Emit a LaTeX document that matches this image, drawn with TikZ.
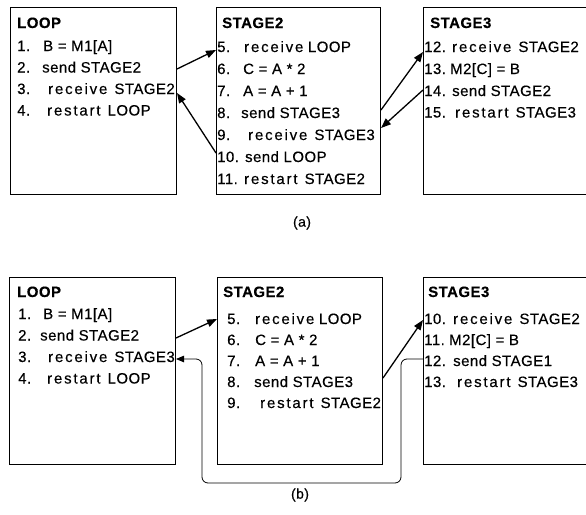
\documentclass[tikz,border=0pt]{standalone}
\usepackage{fontspec}
\setmainfont{Liberation Sans}[LetterSpace=3,FakeBold=0.35]
\usetikzlibrary{arrows.meta}
\newcommand{\ls}[1]{{\addfontfeature{LetterSpace=12}#1}}
\newcommand{\nb}[2]{\makebox[#1pt][l]{#2}}
\begin{document}
\begin{tikzpicture}[x=1pt,y=-1pt,
  box/.style={draw,line width=1pt,inner sep=0pt,anchor=north west,minimum width=#1,minimum height=187pt},
  ttl/.style={anchor=west,inner sep=0pt,font=\fontsize{15}{16}\selectfont\bfseries,text height=11pt,text depth=3pt},
  txt/.style={anchor=west,inner sep=0pt,font=\fontsize{15}{16}\selectfont,text height=11pt,text depth=3pt},
  arr/.style={line width=1.3pt,-{Triangle[length=10pt,width=7.5pt]}},
  ret/.style={line width=0.8pt,rounded corners=6pt,-{Triangle[length=8pt,width=6.5pt]}},
  captxt/.style={font=\fontsize{14}{16}\selectfont,inner sep=0pt}]
\useasboundingbox (0,0) rectangle (586,514);
% ---------- (a) ----------
\node[box=166pt] (loopA) at (10,7) {};
\node[box=164pt] (stbA) at (216,7) {};
\node[box=164pt] (stcA) at (423,7) {};
\node[ttl] at (17,24) {LOOP};
\node[txt] (la1) at (17,47) {\nb{26}{1.}B = M1[A]};
\node[txt] (la2) at (17,68.5) {\nb{25}{2.}send STAGE2};
\node[txt] (la3) at (17,90) {\nb{31}{3.}\ls{receive}\, STAGE2};
\node[txt] (la4) at (17,111.5) {\nb{30}{4.}\ls{restart}\, LOOP};
\node[ttl] at (222,24) {STAGE2};
\node[txt] (sa5) at (217,48) {\nb{27}{5.}\ls{receive} LOOP};
\node[txt] (sa6) at (217,70) {\nb{26}{6.}C = A * 2};
\node[txt] (sa7) at (217,92) {\nb{26}{7.}A = A + 1};
\node[txt] (sa8) at (217,114) {\nb{24}{8.}send STAGE3};
\node[txt] (sa9) at (217,136) {\nb{31}{9.}\ls{receive}\, STAGE3};
\node[txt] (sa10) at (217,158) {10. send LOOP};
\node[txt] (sa11) at (217,180) {\nb{27}{11.}\ls{restart}\, STAGE2};
\node[ttl] at (430,24) {STAGE3};
\node[txt] (ta12) at (424,48) {\nb{28}{12.}\ls{receive}\, STAGE2};
\node[txt] (ta13) at (424,70) {\nb{26}{13.}M2[C] = B};
\node[txt] (ta14) at (424,92) {\nb{28}{14.}send STAGE2};
\node[txt] (ta15) at (424,113.5) {\nb{31}{15.}\ls{restart}\, STAGE3};
\node[captxt] (capa) at (302,223) {(a)};
\draw[arr] ([yshift=-0.5pt]loopA.east |- la2) -- ([yshift=-2pt]stbA.west |- sa5);
\draw[arr] ([yshift=5pt]stbA.west |- sa10) -- ([yshift=-3pt]loopA.east |- la3);
\draw[arr] ([yshift=4pt]stbA.east |- sa8) -- ([yshift=-4pt]stcA.west |- ta12);
\draw[arr] ([yshift=2pt]stcA.west |- ta14) -- ([yshift=8pt]stbA.east |- sa9);
% ---------- (b) ----------
\node[box=166pt] (loopB) at (9,277) {};
\node[box=165pt] (stbB) at (217,277) {};
\node[box=164pt] (stcB) at (423,277) {};
\node[ttl] at (17,293) {LOOP};
\node[txt] (lb1) at (18,315) {\nb{25}{1.}B = M1[A]};
\node[txt] (lb2) at (18,336.5) {\nb{22}{2.}send STAGE2};
\node[txt] (lb3) at (18,358) {\nb{30}{3.}\ls{receive}\, STAGE3};
\node[txt] (lb4) at (18,379.5) {\nb{29}{4.}\ls{restart}\, LOOP};
\node[ttl] at (223,293) {STAGE2};
\node[txt] (sb5) at (227,320) {\nb{28}{5.}\ls{receive} LOOP};
\node[txt] (sb6) at (227,341) {\nb{28}{6.}C = A * 2};
\node[txt] (sb7) at (227,362) {\nb{28}{7.}A = A + 1};
\node[txt] (sb8) at (227,383) {\nb{27}{8.}send STAGE3};
\node[txt] (sb9) at (227,404) {\nb{33}{9.}\ls{restart}\, STAGE2};
\node[ttl] at (428,293) {STAGE3};
\node[txt] (tb10) at (424,320) {\nb{29}{10.}\ls{receive}\, STAGE2};
\node[txt] (tb11) at (424,341) {\nb{25}{11.}M2[C] = B};
\node[txt] (tb12) at (424,362) {\nb{29}{12.}send STAGE1};
\node[txt] (tb13) at (424,383) {\nb{33}{13.}\ls{restart}\, STAGE3};
\node[captxt] (capb) at (300,495) {(b)};
\draw[arr] ([yshift=-1.5pt]loopB.east |- lb2) -- ([yshift=1pt]stbB.west |- sb5);
\draw[arr] ([yshift=5pt]stbB.east |- sb8) -- (stcB.west |- tb10);
\coordinate (r0) at ([yshift=3pt]stcB.west |- tb12);
\coordinate (r1) at (401,483);
\coordinate (r2) at (202,359);
\draw[ret] (r0) -| (r1) -| (r2) -- (loopB.east |- r2);
\end{tikzpicture}
\end{document}
